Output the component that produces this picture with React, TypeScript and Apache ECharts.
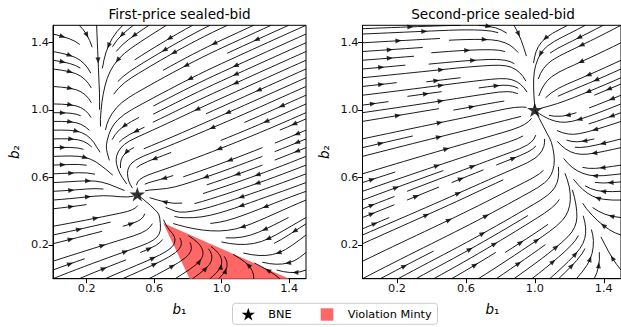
import React, { useEffect, useRef } from "react";
import * as echarts from "echarts";

type P = [number, number];

// ---------------- data ----------------
const tickValues = [0.2, 0.6, 1.0, 1.4];
const axisMin = 0;
const axisMax = 1.5;

const titles = ["First-price sealed-bid", "Second-price sealed-bid"];

// Bayes-Nash equilibria
const fpBNE: P = [0.5, 0.5];
const spBNE: P = [1.0, 1.0];

// Region where the Minty condition is violated (first-price)
const violationB1 = [0.653, 0.81, 1.4];
const violationB2 = [0.33, 0.0, 0.0];

// Attracting streamline through the BNE, traced from top to bottom
const fpCurveB1 = [0.25, 0.26, 0.27, 0.27, 0.29, 0.33, 0.38, 0.44, 0.5, 0.58, 0.64, 0.66, 0.7, 0.95, 1.18, 1.4];
const fpCurveB2 = [1.5, 1.3, 1.1, 0.92, 0.78, 0.69, 0.62, 0.55, 0.5, 0.44, 0.39, 0.35, 0.31, 0.2, 0.1, 0.0];
const spCurveB1 = [0.9, 0.93, 0.96, 0.98, 1.0, 1.05, 1.1, 1.16, 1.21, 1.27, 1.32, 1.37, 1.42, 1.47, 1.5];
const spCurveB2 = [1.5, 1.42, 1.3, 1.15, 1.0, 0.9, 0.82, 0.67, 0.57, 0.43, 0.35, 0.27, 0.16, 0.05, 0.0];

// Flow direction (degrees) on each side of that curve, on a coarse grid
const dirGridB1 = [0, 0.5, 1.0, 1.5];
const dirGridB2 = [1.5, 1.0, 0.5, 0.0];
const fpLeftDir = [
  [-15, -25, -30, -30],
  [0, -5, -10, -10],
  [3, 10, 20, 30],
  [22, 25, 40, 55],
];
const fpRightDir = [
  [240, 215, 205, 204],
  [220, 208, 204, 204],
  [200, 195, 198, 200],
  [190, 188, 195, 235],
];
const spLeftDir = [
  [2, 2, -10, -20],
  [8, 10, 14, 15],
  [20, 24, 30, 45],
  [28, 30, 38, 60],
];
const spRightDir = [
  [210, 210, 208, 208],
  [200, 200, 200, 202],
  [185, 185, 183, 182],
  [180, 180, 180, 180],
];

// ---------------- vector field from the data above ----------------
function interpDir(table: number[][], x: number, y: number): number {
  const xs = dirGridB1, ys = dirGridB2;
  const cx = Math.max(xs[0], Math.min(xs[xs.length - 1], x));
  const cy = Math.max(ys[ys.length - 1], Math.min(ys[0], y));
  let i = 0;
  while (i < xs.length - 2 && cx > xs[i + 1]) i++;
  let j = 0;
  while (j < ys.length - 2 && cy < ys[j + 1]) j++;
  const fx = (cx - xs[i]) / (xs[i + 1] - xs[i]);
  const fy = (ys[j] - cy) / (ys[j] - ys[j + 1]);
  const top = table[j][i] * (1 - fx) + table[j][i + 1] * fx;
  const bot = table[j + 1][i] * (1 - fx) + table[j + 1][i + 1] * fx;
  return top * (1 - fy) + bot * fy;
}

function makeField(cb1: number[], cb2: number[], star: P, leftDir: number[][], rightDir: number[][], kS: number) {
  const raw: P[] = cb1.map((x, i) => [x, cb2[i]] as P);
  const extend = (p: P, q: P): P => {
    const dx = p[0] - q[0], dy = p[1] - q[1], L = Math.hypot(dx, dy);
    return [p[0] + (dx / L) * 0.8, p[1] + (dy / L) * 0.8];
  };
  const pts: P[] = [extend(raw[0], raw[1]), ...raw, extend(raw[raw.length - 1], raw[raw.length - 2])];
  const sIdx = pts.findIndex((p) => Math.abs(p[0] - star[0]) < 1e-9 && Math.abs(p[1] - star[1]) < 1e-9);
  const cum = [0];
  for (let i = 1; i < pts.length; i++) cum.push(cum[i - 1] + Math.hypot(pts[i][0] - pts[i - 1][0], pts[i][1] - pts[i - 1][1]));
  const curveX = (y: number) => {
    for (let i = 0; i < pts.length - 1; i++) {
      const a = pts[i], b = pts[i + 1];
      if (y <= a[1] && y >= b[1]) {
        const t = (a[1] - y) / (a[1] - b[1] || 1);
        return a[0] + t * (b[0] - a[0]);
      }
    }
    return y > pts[0][1] ? pts[0][0] : pts[pts.length - 1][0];
  };
  const delta = 0.06, deltaT = 0.1, kT = 1.2, rS = 0.06;
  return (x: number, y: number): P => {
    let best = Infinity, bi = 0, bt = 0;
    for (let i = 0; i < pts.length - 1; i++) {
      const a = pts[i], b = pts[i + 1];
      const dx = b[0] - a[0], dy = b[1] - a[1];
      let t = ((x - a[0]) * dx + (y - a[1]) * dy) / (dx * dx + dy * dy);
      t = Math.max(0, Math.min(1, t));
      const px = a[0] + t * dx, py = a[1] + t * dy;
      const dd = (x - px) ** 2 + (y - py) ** 2;
      if (dd < best) { best = dd; bi = i; bt = t; }
    }
    const a = pts[bi], b = pts[bi + 1];
    const L = Math.hypot(b[0] - a[0], b[1] - a[1]);
    const ux = (b[0] - a[0]) / L, uy = (b[1] - a[1]) / L;
    const dist = Math.sqrt(best);
    const d = x - curveX(y) >= 0 ? dist : -dist;
    const s = cum[bi] + bt * L;
    const sd = Math.abs(s - cum[sIdx]);
    const tx = bi < sIdx ? ux : -ux, ty = bi < sIdx ? uy : -uy;
    const ramp = Math.min(1, sd / 0.12);
    const w = 0.5 * (1 + Math.tanh(d / delta));
    const la = (interpDir(leftDir, x, y) * Math.PI) / 180;
    const ra = (interpDir(rightDir, x, y) * Math.PI) / 180;
    const g = kT * Math.exp(-((d / deltaT) ** 2)) * ramp;
    let fx = (1 - w) * Math.cos(la) + w * Math.cos(ra) + g * tx;
    let fy = (1 - w) * Math.sin(la) + w * Math.sin(ra) + g * ty;
    const rx = star[0] - x, ry = star[1] - y, r = Math.hypot(rx, ry);
    if (r > 1e-9) {
      const gs = kS * Math.exp(-((r / rS) ** 2));
      fx += (gs * rx) / r;
      fy += (gs * ry) / r;
    }
    return [fx, fy];
  };
}

// ---------------- streamline integration (matplotlib-style) ----------------
function streamplot(field: (x: number, y: number) => P): P[][] {
  const N = 30;
  const span = axisMax - axisMin;
  const mask = new Uint8Array(N * N);
  let traj: number[] = [];
  let cur = -1;
  const cell = (a: number, b: number) => Math.round(b * (N - 1)) * N + Math.round(a * (N - 1));
  const update = (k: number) => {
    if (cur !== k) {
      if (mask[k] === 0) { traj.push(k); mask[k] = 1; cur = k; return true; }
      return false;
    }
    return true;
  };
  const within = (a: number, b: number) => a >= 0 && a <= 1 && b >= 0 && b <= 1;
  const f = (a: number, b: number, dir: number): P | null => {
    const [u, v] = field(axisMin + a * span, axisMin + b * span);
    const sp = Math.hypot(u, v);
    if (sp < 1e-7) return null;
    return [(dir * u) / sp, (dir * v) / sp];
  };
  const rk12 = (a0: number, b0: number, dir: number): [number, P[]] => {
    const maxds = Math.min(1 / N, 0.1), maxerror = 0.003, maxlength = 4.0;
    let ds = maxds, stotal = 0, xi = a0, yi = b0;
    const out: P[] = [];
    for (let iter = 0; iter < 5000; iter++) {
      if (!within(xi, yi)) break;
      out.push([xi, yi]);
      const k1 = f(xi, yi, dir);
      if (!k1) break;
      const x2 = xi + ds * k1[0], y2 = yi + ds * k1[1];
      if (!within(x2, y2)) {
        const [cx, cy] = k1;
        const dsx = cx === 0 ? Infinity : cx < 0 ? xi / -cx : (1 - xi) / cx;
        const dsy = cy === 0 ? Infinity : cy < 0 ? yi / -cy : (1 - yi) / cy;
        const de = Math.min(dsx, dsy);
        out.push([xi + cx * de, yi + cy * de]);
        stotal += de;
        break;
      }
      const k2 = f(x2, y2, dir);
      if (!k2) break;
      const dx1 = ds * k1[0], dy1 = ds * k1[1];
      const dx2 = ds * 0.5 * (k1[0] + k2[0]), dy2 = ds * 0.5 * (k1[1] + k2[1]);
      const error = Math.hypot(dx2 - dx1, dy2 - dy1);
      if (error < maxerror) {
        xi += dx2; yi += dy2;
        if (within(xi, yi) && !update(cell(xi, yi))) break;
        if (stotal + ds > maxlength) break;
        stotal += ds;
      }
      ds = error === 0 ? maxds : Math.min(maxds, 0.85 * ds * Math.sqrt(maxerror / error));
    }
    return [stotal, out];
  };
  const seeds: [number, number][] = [];
  {
    let xfirst = 0, yfirst = 1, xlast = N - 1, ylast = N - 1, x = 0, y = 0, direction = "right";
    for (let i = 0; i < N * N; i++) {
      seeds.push([x, y]);
      if (direction === "right") { x += 1; if (x >= xlast) { xlast -= 1; direction = "up"; } }
      else if (direction === "up") { y += 1; if (y >= ylast) { ylast -= 1; direction = "left"; } }
      else if (direction === "left") { x -= 1; if (x <= xfirst) { xfirst += 1; direction = "down"; } }
      else { y -= 1; if (y <= yfirst) { yfirst += 1; direction = "right"; } }
    }
  }
  const lines: P[][] = [];
  for (const [xm, ym] of seeds) {
    if (mask[ym * N + xm] !== 0) continue;
    const a0 = xm / (N - 1), b0 = ym / (N - 1);
    traj = []; cur = -1;
    if (!update(ym * N + xm)) continue;
    const [s1, back] = rk12(a0, b0, -1);
    cur = ym * N + xm;
    const [s2, fwd] = rk12(a0, b0, 1);
    if (s1 + s2 > 0.1) {
      const pts = back.reverse().concat(fwd.slice(1));
      lines.push(pts.map((p) => [axisMin + p[0] * span, axisMin + p[1] * span] as P));
    } else {
      for (const k of traj) mask[k] = 0;
    }
  }
  return lines;
}

function arrowsFor(lines: P[][], sx: number, sy: number) {
  const res: any[] = [];
  for (const t of lines) {
    if (t.length < 2) continue;
    const s: number[] = [];
    let acc = 0;
    for (let i = 1; i < t.length; i++) { acc += Math.hypot(t[i][0] - t[i - 1][0], t[i][1] - t[i - 1][1]); s.push(acc); }
    const half = acc / 2;
    let n = 0;
    while (n < s.length && s[n] < half) n++;
    const tail = t[n], nxt = t[Math.min(n + 1, t.length - 1)];
    const head: P = [(tail[0] + nxt[0]) / 2, (tail[1] + nxt[1]) / 2];
    const ang = Math.atan2((head[1] - tail[1]) * sy, (head[0] - tail[0]) * sx);
    const back = 2.8;
    const c: P = [head[0] - (Math.cos(ang) * back) / sx, head[1] - (Math.sin(ang) * back) / sy];
    res.push({ value: c, symbolRotate: (ang * 180) / Math.PI - 90 });
  }
  return res;
}

function starPoints(cx: number, cy: number, R: number): number[][] {
  const pts: number[][] = [];
  for (let i = 0; i < 10; i++) {
    const r = i % 2 === 0 ? R : R * 0.382;
    const a = -Math.PI / 2 + (i * Math.PI) / 5;
    pts.push([cx + r * Math.cos(a), cy + r * Math.sin(a)]);
  }
  return pts;
}

const STAR_PATH =
  "path://M0,-1L0.2245,-0.309L0.951,-0.309L0.363,0.118L0.588,0.809L0,0.382L-0.588,0.809L-0.363,0.118L-0.951,-0.309L-0.2245,-0.309Z";

const FONT = "DejaVu Sans";

export default function App() {
  const ref = useRef<HTMLDivElement>(null);
  useEffect(() => {
    if (!ref.current) return;
    const chart = echarts.init(ref.current, undefined, { renderer: "svg" });

    const grids = [
      { left: 53, top: 25.3, width: 253, height: 253.4 },
      { left: 362.5, top: 25.3, width: 261, height: 253.4 },
    ];
    const span = axisMax - axisMin;
    const fpLines = streamplot(makeField(fpCurveB1, fpCurveB2, fpBNE, fpLeftDir, fpRightDir, 1.0));
    const spLines = streamplot(makeField(spCurveB1, spCurveB2, spBNE, spLeftDir, spRightDir, 0.35));
    const fpArrows = arrowsFor(fpLines, grids[0].width / span, grids[0].height / span);
    const spArrows = arrowsFor(spLines, grids[1].width / span, grids[1].height / span);

    const axisCommon = {
      type: "value",
      min: axisMin,
      max: axisMax,
      axisLine: { show: true, onZero: false, lineStyle: { color: "#000", width: 1 } },
      axisTick: { show: true, customValues: tickValues, length: 4.5, lineStyle: { color: "#000", width: 1 } },
      axisLabel: {
        customValues: tickValues,
        formatter: (v: number) => v.toFixed(1),
        color: "#111",
        fontSize: 11.3,
        fontFamily: FONT,
        margin: 4,
      },
      splitLine: { show: false },
    };

    const panelSeries = (gi: number, lines: P[][], arrows: any[], star: P) => [
      {
        type: "lines",
        coordinateSystem: "cartesian2d",
        xAxisIndex: gi,
        yAxisIndex: gi,
        polyline: true,
        silent: true,
        z: 3,
        lineStyle: { color: "#000", width: 0.9, opacity: 1 },
        data: lines.map((c) => ({ coords: c })),
      },
      {
        type: "scatter",
        xAxisIndex: gi,
        yAxisIndex: gi,
        silent: true,
        z: 4,
        symbol: "triangle",
        symbolSize: [5, 6],
        itemStyle: { color: "#000" },
        data: arrows,
      },
      {
        type: "scatter",
        xAxisIndex: gi,
        yAxisIndex: gi,
        silent: true,
        z: 5,
        symbol: STAR_PATH,
        symbolSize: [15.5, 14.7],
        itemStyle: { color: "#000" },
        data: [star],
      },
    ];

    const axisLabelText = (x: number, y: number, sub: string, rot: number) => ({
      type: "text",
      x,
      y,
      rotation: rot,
      style: {
        text: `{i|b}{n|${sub}}`,
        align: "center",
        verticalAlign: "middle",
        rich: {
          i: { fontStyle: "italic", fontSize: 13.5, fontFamily: FONT, fill: "#000" },
          n: { fontSize: 13.5, fontFamily: FONT, fill: "#000" },
        },
      },
    });

    const option: any = {
      animation: false,
      backgroundColor: "#fff",
      grid: grids.map((g) => ({ ...g, show: true, borderColor: "#000", borderWidth: 1, backgroundColor: "transparent" })),
      xAxis: [0, 1].map((i) => ({ ...axisCommon, gridIndex: i })),
      yAxis: [0, 1].map((i) => ({ ...axisCommon, gridIndex: i })),
      series: [
        {
          type: "custom",
          xAxisIndex: 0,
          yAxisIndex: 0,
          silent: true,
          z: 1,
          data: [0],
          renderItem: (_p: any, api: any) => ({
            type: "polygon",
            shape: { points: violationB1.map((x, i) => api.coord([x, violationB2[i]])) },
            style: { fill: "#ff6666" },
          }),
        },
        ...panelSeries(0, fpLines, fpArrows, fpBNE),
        ...panelSeries(1, spLines, spArrows, spBNE),
      ],
      graphic: [
        {
          type: "text",
          x: grids[0].left + grids[0].width / 2,
          y: 13.5,
          style: { text: titles[0], fontSize: 13.6, fontFamily: FONT, fill: "#000", align: "center", verticalAlign: "middle" },
        },
        {
          type: "text",
          x: grids[1].left + grids[1].width / 2,
          y: 13.5,
          style: { text: titles[1], fontSize: 13.6, fontFamily: FONT, fill: "#000", align: "center", verticalAlign: "middle" },
        },
        axisLabelText(179.5, 309, "\u2081", 0),
        axisLabelText(492.5, 309, "\u2081", 0),
        axisLabelText(14, 152, "\u2082", Math.PI / 2),
        axisLabelText(323.5, 152, "\u2082", Math.PI / 2),
        {
          type: "rect",
          shape: { x: 232.5, y: 303.3, width: 205, height: 21, r: 3 },
          style: { fill: "#fff", stroke: "#cccccc", lineWidth: 1 },
          z: 10,
        },
        {
          type: "polygon",
          shape: { points: starPoints(248.3, 314.8, 7) },
          style: { fill: "#000" },
          z: 11,
        },
        {
          type: "text",
          x: 268.3,
          y: 314,
          style: { text: "BNE", fontSize: 11.3, fontFamily: FONT, fill: "#000", verticalAlign: "middle" },
          z: 11,
        },
        {
          type: "rect",
          shape: { x: 320.7, y: 308.3, width: 12.6, height: 12.4 },
          style: { fill: "#ff6666" },
          z: 11,
        },
        {
          type: "text",
          x: 347.7,
          y: 314,
          style: { text: "Violation Minty", fontSize: 11.3, fontFamily: FONT, fill: "#000", verticalAlign: "middle" },
          z: 11,
        },
      ],
    };

    chart.setOption(option);
    return () => chart.dispose();
  }, []);

  return (
    <div
      ref={ref}
      style={{ position: "fixed", left: 0, top: 0, width: 621, height: 327, background: "#fff" }}
    />
  );
}
